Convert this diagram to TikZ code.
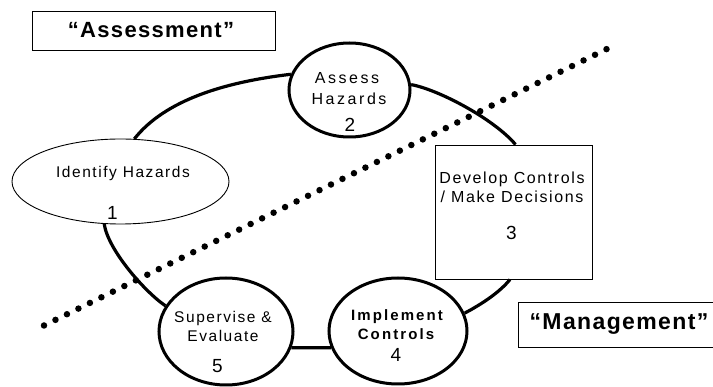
\documentclass[tikz,border=0pt]{standalone}
\usepackage{fontspec}
\setmainfont{Liberation Sans}
\usetikzlibrary{shapes.geometric}
\tikzset{
  thinbox/.style={draw, line width=0.9pt, inner sep=0pt},
  thickell/.style={draw, ellipse, line width=3pt, inner sep=0pt},
  thinell/.style={draw, ellipse, line width=0.9pt, inner sep=0pt},
  conn/.style={line width=3.2pt},
  txt/.style={font=\fontsize{15.5}{15.5}\selectfont\addfontfeature{LetterSpace=10}, anchor=base, inner sep=0pt},
  txtwide/.style={font=\fontsize{16}{16}\selectfont\addfontfeature{LetterSpace=16}, anchor=base, inner sep=0pt},
  devtxt/.style={font=\fontsize{16}{16}\selectfont\addfontfeature{LetterSpace=10}, anchor=base, inner sep=0pt},
  boldtxt/.style={font=\fontsize{15}{15}\selectfont\bfseries\addfontfeature{LetterSpace=14}, anchor=base, inner sep=0pt},
  num/.style={font=\fontsize{19}{19}\selectfont, anchor=base, inner sep=0pt},
  title/.style={font=\fontsize{22}{22}\selectfont\bfseries\addfontfeature{LetterSpace=6}, anchor=base, inner sep=0pt},
  mgmttitle/.style={font=\fontsize{23}{23}\selectfont\bfseries\addfontfeature{LetterSpace=6}, anchor=base, inner sep=0pt},
  dotline/.style={line width=6.5pt, line cap=round, dash pattern=on 0pt off 12.79pt}
}
\begin{document}
\begin{tikzpicture}[x=1pt,y=-1pt]
\useasboundingbox (0,0) rectangle (713,387);
% boxes
\node[thinbox, minimum width=243pt, minimum height=39pt] (assessbox) at (153.5,30.5) {};
\node[title] (assesstxt) at (151,38) {“Assessment”};
\node[thinbox, minimum width=200pt, minimum height=45pt] (mgmtbox) at (618,324.5) {};
\node[mgmttitle] (mgmttxt) at (619,330) {“Management”};
% process nodes
\node[thinell, minimum width=217pt, minimum height=85pt] (ident) at (120.5,181.5) {};
\node[thickell, minimum width=121pt, minimum height=94pt] (assess) at (349.5,90) {};
\node[thinbox, minimum width=157pt, minimum height=134pt] (dev) at (513.5,212) {};
\node[thickell, minimum width=138pt, minimum height=106pt] (impl) at (398,331) {};
\node[thickell, minimum width=134pt, minimum height=107pt] (sup) at (226,331.5) {};
% texts
\node[txt] (identA) at (123,178) {Identify Hazards};
\node[num] (identN) at (112.5,220) {1};
\node[txtwide] (assessA) at (347,84) {Assess};
\node[txtwide] (assessB) at (349,105) {Hazards};
\node[num] (assessN) at (350,131.5) {2};
\node[devtxt] (devA) at (512,184) {Develop Controls};
\node[devtxt] (devB) at (512,203) {/ Make Decisions};
\node[num] (devN) at (511.5,240) {3};
\node[txt] (supA) at (223,323) {Supervise \&};
\node[txt] (supB) at (223,342) {Evaluate};
\node[num] (supN) at (217.5,373) {5};
\node[boldtxt] (implA) at (397,321) {Implement};
\node[boldtxt] (implB) at (396,340) {Controls};
\node[num] (implN) at (396,362) {4};
% connectors
\draw[conn] (ident.72) .. controls (165,100) and (225,82) .. (assess.165);
\draw[conn] (assess.5) .. controls (440,90) and (495,120) .. ([xshift=2pt]dev.north);
\draw[conn] ([xshift=-3.5pt]dev.south) .. controls (500,292) and (482,304) .. (impl.15);
\draw[conn] (sup.-14) -- (impl.194);
\draw[conn] (sup.157) .. controls (145,292) and (108,250) .. (ident.249);
% dividing dotted line
\coordinate (dA) at (44,325.5);
\coordinate (dB) at (617,44);
\draw[dotline] (dA) -- (dB);
\end{tikzpicture}
\end{document}
